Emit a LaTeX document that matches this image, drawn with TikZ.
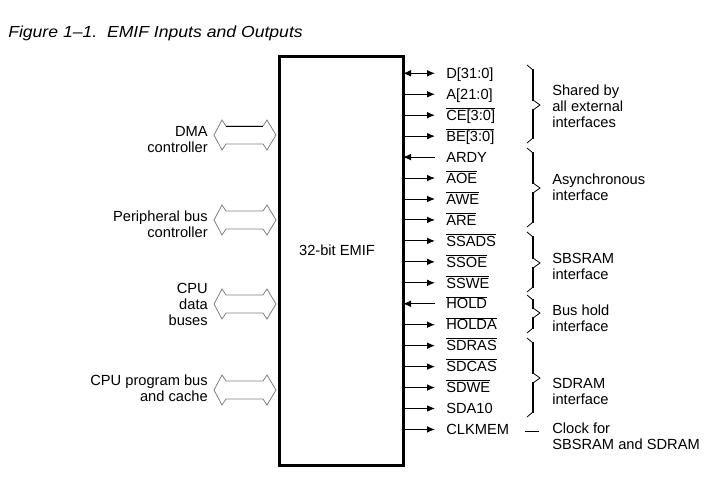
\documentclass[tikz,border=0pt]{standalone}
\usepackage{fontspec}
\setmainfont{Liberation Sans}
\newfontfamily\titlefont{Liberation Sans}[FakeStretch=1.1,Ligatures=TeX]
\usetikzlibrary{arrows.meta}
\newcommand\ob[1]{\ensuremath{\overline{\hbox{#1}}}}
\tikzset{
  lbl/.style={inner sep=0pt, font=\fontsize{11}{12}\selectfont},
  blk/.style={inner sep=0pt, align=left, font=\fontsize{11}{12}\selectfont},
  blkr/.style={inner sep=0pt, align=right, font=\fontsize{11}{12}\selectfont},
  outsig/.style={line width=0.75pt, -{Latex[length=6pt,width=5pt]}},
  insig/.style={line width=0.75pt, {Latex[length=6pt,width=5pt]}-},
  bisig/.style={line width=0.75pt, {Latex[length=6pt,width=5pt]}-{Latex[length=6pt,width=5pt]}},
  emifbox/.style={draw, line width=2.25pt, inner sep=0pt, outer sep=0pt, minimum width=93pt, minimum height=306pt},
  dblar/.style={draw=black!50, line width=0.6pt, line join=miter},
  brthin/.style={line width=0.6pt},
  brthick/.style={line width=1.5pt},
}
\newcommand\mybrace[3]{%
  \draw[brthin] (527,#1) -- (533,#1+5) -- (533,#2-5) -- (540,#2) -- (533,#2+5) -- (533,#3-5) -- (527,#3);
  \draw[brthick] (533,#1+4) -- (533,#2-4) (533,#2+4) -- (533,#3-4);}
\newcommand\dblarrow[1]{%
  \draw[dblar] (214,#1) -- (222,#1-15) -- (226,#1-9) -- (263,#1-9) -- (267,#1-15) -- (276,#1) -- (267,#1+15) -- (263,#1+9) -- (226,#1+9) -- (222,#1+15) -- cycle;}
\begin{document}
\begin{tikzpicture}[x=0.75pt,y=-0.75pt]
\useasboundingbox[fill=white] (0,0) rectangle (723,478);
% title
\node[inner sep=0pt, anchor=base west, font=\titlefont\itshape\fontsize{12}{14}\selectfont] (title) at (8,38) {Figure 1\textendash 1.\ \ EMIF Inputs and Outputs};
% left double arrows
\dblarrow{135}
\draw[black, line width=0.6pt] (226,126) -- (263,126);
\dblarrow{220}
\dblarrow{304}
\dblarrow{390}
% left labels
\node[blkr, anchor=north east] (dma) at (208,126.4) {DMA\\controller};
\node[blkr, anchor=north east] (per) at (208,210.7) {Peripheral bus\\controller};
\node[blkr, anchor=north east] (cpud) at (208,282.7) {CPU\\data\\buses};
\node[blkr, anchor=north east] (cpup) at (208,374.7) {CPU program bus\\and cache};
% main box
\node[emifbox] (emif) at (341,261) {};
\node[lbl] (emiflbl) at (337,250) {32-bit EMIF};
% signals
\foreach \i/\t/\st in {
  0/{D[31:0]}/bisig,
  1/{A[21:0]}/outsig,
  2/{\ob{CE[3:0]}}/outsig,
  3/{\ob{BE[3:0]}}/outsig,
  4/{ARDY}/insig,
  5/{\ob{AOE}}/outsig,
  6/{\ob{AWE}}/outsig,
  7/{\ob{ARE}}/outsig,
  8/{\ob{SSADS}}/outsig,
  9/{\ob{SSOE}}/outsig,
  10/{\ob{SSWE}}/outsig,
  11/{\ob{HOLD}}/insig,
  12/{\ob{HOLDA}}/outsig,
  13/{\ob{SDRAS}}/outsig,
  14/{\ob{SDCAS}}/outsig,
  15/{\ob{SDWE}}/outsig,
  16/{SDA10}/outsig,
  17/{CLKMEM}/outsig}{
  \pgfmathsetmacro\yy{73.3+20.95*\i}
  \coordinate (s\i) at (435,\yy);
  \node[lbl, anchor=base west] (l\i) at (446,\yy+5.2) {\t};
  \draw[\st] (emif.east |- s\i) -- (s\i);
}
% braces
\mybrace{65}{105}{143}
\mybrace{148}{188}{227}
\mybrace{232}{263}{292}
\mybrace{295}{313}{333}
\mybrace{338}{378}{417}
% brace labels
\node[blk, anchor=north west] (g1) at (552,84.7) {Shared by\\all external\\interfaces};
\node[blk, anchor=north west] (g2) at (552,173.7) {Asynchronous\\interface};
\node[blk, anchor=north west] (g3) at (552,252.7) {SBSRAM\\interface};
\node[blk, anchor=north west] (g4) at (552,304.7) {Bus hold\\interface};
\node[blk, anchor=north west] (g5) at (552,377.7) {SDRAM\\interface};
\node[blk, anchor=north west] (g6) at (552,422.7) {Clock for\\SBSRAM and SDRAM};
\coordinate (c1) at (525,431);
\coordinate (c2) at (539,431);
\draw[line width=0.75pt] (c1) -- (c2);
\end{tikzpicture}
\end{document}
